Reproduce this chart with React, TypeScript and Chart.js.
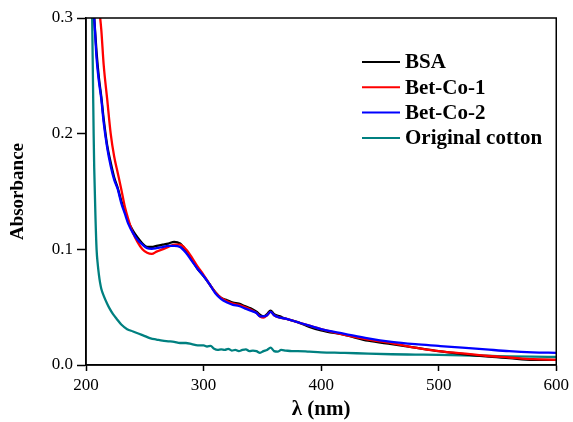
import React, { useEffect, useRef } from "react";
import { Chart, registerables } from "chart.js";

Chart.register(...registerables);

const wavelengths = [205, 207, 209, 211, 213, 215, 218, 221, 224, 227, 230, 233, 236, 240, 244, 248, 252, 256, 260, 265, 270, 275, 280, 285, 290, 295, 300, 305, 310, 315, 320, 325, 330, 335, 340, 345, 348, 351, 354, 357, 360, 365, 370, 380, 390, 400, 420, 440, 460, 480, 500, 520, 540, 560, 580, 600];

const bsa = [0.33, 0.3, 0.27, 0.248, 0.232, 0.213, 0.19, 0.175, 0.162, 0.153, 0.142, 0.133, 0.124, 0.116, 0.11, 0.105, 0.102, 0.102, 0.103, 0.104, 0.105, 0.1065, 0.105, 0.099, 0.091, 0.083, 0.077, 0.07, 0.063, 0.058, 0.056, 0.054, 0.053, 0.051, 0.049, 0.046, 0.0435, 0.042, 0.044, 0.047, 0.044, 0.042, 0.04, 0.037, 0.033, 0.03, 0.026, 0.021, 0.018, 0.015, 0.012, 0.0095, 0.0075, 0.006, 0.0045, 0.0045];

const betCo1 = [0.4, 0.36, 0.33, 0.31, 0.29, 0.26, 0.23, 0.2, 0.18, 0.166, 0.152, 0.137, 0.126, 0.114, 0.106, 0.1, 0.097, 0.096, 0.098, 0.1, 0.102, 0.104, 0.104, 0.1, 0.093, 0.085, 0.078, 0.07, 0.063, 0.058, 0.055, 0.053, 0.052, 0.05, 0.048, 0.045, 0.042, 0.041, 0.043, 0.046, 0.043, 0.041, 0.04, 0.037, 0.034, 0.031, 0.026, 0.022, 0.019, 0.015, 0.012, 0.01, 0.008, 0.0065, 0.005, 0.0045];

const betCo2 = [0.33, 0.3, 0.265, 0.245, 0.23, 0.21, 0.188, 0.172, 0.16, 0.152, 0.14, 0.131, 0.122, 0.114, 0.108, 0.104, 0.101, 0.1005, 0.101, 0.102, 0.103, 0.103, 0.102, 0.097, 0.09, 0.083, 0.077, 0.07, 0.062, 0.057, 0.054, 0.052, 0.051, 0.049, 0.047, 0.045, 0.042, 0.042, 0.043, 0.046, 0.043, 0.041, 0.04, 0.037, 0.034, 0.031, 0.027, 0.023, 0.02, 0.018, 0.0165, 0.015, 0.0135, 0.012, 0.011, 0.0105];

const cottonWl = [205, 205.5, 206, 206.5, 207, 208, 209, 210, 211, 212, 213, 215, 218, 220, 223, 226, 230, 235, 240, 245, 250, 255, 260, 265, 270, 275, 280, 285, 290, 295, 300, 303, 306, 309, 312, 315, 318, 321, 324, 327, 330, 333, 336, 339, 342, 345, 348, 351, 354, 357, 360, 363, 366, 370, 375, 380, 390, 400, 420, 440, 460, 480, 500, 520, 540, 560, 580, 600];

const cotton = [0.32, 0.28, 0.24, 0.2, 0.17, 0.13, 0.1, 0.087, 0.078, 0.071, 0.066, 0.06, 0.053, 0.049, 0.044, 0.04, 0.035, 0.031, 0.029, 0.027, 0.025, 0.023, 0.022, 0.021, 0.0205, 0.02, 0.019, 0.019, 0.018, 0.017, 0.017, 0.016, 0.0165, 0.014, 0.013, 0.0135, 0.013, 0.014, 0.0125, 0.013, 0.012, 0.013, 0.0135, 0.012, 0.0125, 0.012, 0.0105, 0.012, 0.013, 0.015, 0.012, 0.0115, 0.013, 0.0125, 0.012, 0.012, 0.0115, 0.011, 0.0105, 0.0098, 0.0093, 0.009, 0.0087, 0.0083, 0.008, 0.0075, 0.0072, 0.007];

const seriesLabels = ["BSA", "Bet-Co-1", "Bet-Co-2", "Original cotton"];
const seriesColors = ["#000000", "#ff0000", "#0000ff", "#008080"];

const xTicks = [200, 300, 400, 500, 600];
const yTicks = [0.0, 0.1, 0.2, 0.3];

const SERIF = "'Liberation Serif', 'Times New Roman', serif";

const framePlugin = {
  id: "frame",
  afterDatasetsDraw(chart: any) {
    const { ctx, chartArea } = chart;
    ctx.save();
    ctx.strokeStyle = "#000";
    ctx.lineWidth = 1.5;
    ctx.strokeRect(chartArea.left, chartArea.top, chartArea.right - chartArea.left, chartArea.bottom - chartArea.top);
    ctx.restore();
  },
};

const legendPlugin = {
  id: "customLegend",
  afterDraw(chart: any) {
    const { ctx } = chart;
    const x0 = 362;
    const x1 = 400;
    const y0 = 62;
    const dy = 25.3;
    ctx.save();
    ctx.font = `bold 21px ${SERIF}`;
    ctx.textBaseline = "middle";
    ctx.textAlign = "left";
    chart.data.datasets.forEach((ds: any, i: number) => {
      const y = y0 + i * dy;
      ctx.strokeStyle = ds.borderColor;
      ctx.lineWidth = 2;
      ctx.beginPath();
      ctx.moveTo(x0, y);
      ctx.lineTo(x1, y);
      ctx.stroke();
      ctx.fillStyle = "#000";
      ctx.fillText(ds.label, x1 + 5, y + 1);
    });
    ctx.restore();
  },
};

export default function App() {
  const ref = useRef<HTMLCanvasElement>(null);
  useEffect(() => {
    if (!ref.current) return;
    const mk = (xs: number[], ys: number[]) => xs.map((x, i) => ({ x, y: ys[i] }));
    const chart = new Chart(ref.current, {
      type: "line",
      data: {
        datasets: [
          { label: seriesLabels[0], data: mk(wavelengths, bsa), borderColor: seriesColors[0], order: 2 },
          { label: seriesLabels[1], data: mk(wavelengths, betCo1), borderColor: seriesColors[1], order: 1 },
          { label: seriesLabels[2], data: mk(wavelengths, betCo2), borderColor: seriesColors[2], order: 0 },
          { label: seriesLabels[3], data: mk(cottonWl, cotton), borderColor: seriesColors[3], order: 3 },
        ].map((d) => ({
          ...d,
          borderWidth: 2.3,
          pointRadius: 0,
          fill: false,
          cubicInterpolationMode: "monotone" as const,
        })),
      },
      options: {
        animation: false,
        responsive: false,
        layout: { padding: { top: 18, right: 16, left: 0, bottom: 0 } },
        plugins: { legend: { display: false }, tooltip: { enabled: false } },
        scales: {
          x: {
            type: "linear",
            min: 200,
            max: 600,
            afterBuildTicks: (s: any) => {
              s.ticks = xTicks.map((v) => ({ value: v }));
            },
            afterFit: (s: any) => {
              s.height = 57;
            },
            grid: { display: true, drawOnChartArea: false, drawTicks: true, tickLength: 6, tickColor: "#000", tickWidth: 1.5 },
            border: { display: true, color: "#000", width: 1.5 },
            ticks: { color: "#000", font: { family: SERIF, size: 17 }, padding: 4, maxRotation: 0, callback: (v: any) => String(v) },
            title: { display: true, text: "λ (nm)", color: "#000", font: { family: SERIF, size: 21, weight: "bold" }, padding: { top: 0, bottom: 0 } },
          },
          y: {
            type: "linear",
            min: 0,
            max: 0.3,
            afterBuildTicks: (s: any) => {
              s.ticks = yTicks.map((v) => ({ value: v }));
            },
            afterFit: (s: any) => {
              s.width = 86;
            },
            grid: { display: true, drawOnChartArea: false, drawTicks: true, tickLength: 9, tickColor: "#000", tickWidth: 1.5 },
            border: { display: true, color: "#000", width: 1.5 },
            ticks: { color: "#000", font: { family: SERIF, size: 17 }, padding: 4, callback: (v: any) => Number(v).toFixed(1) },
            title: { display: true, text: "Absorbance", color: "#000", font: { family: SERIF, size: 19, weight: "bold" }, padding: { top: 7, bottom: 0 } },
          },
        },
      },
      plugins: [framePlugin, legendPlugin],
    });
    return () => chart.destroy();
  }, []);
  return (
    <div style={{ position: "fixed", left: 0, top: 0, width: 573, height: 422, background: "#fff" }}>
      <canvas ref={ref} width={573} height={422} style={{ width: 573, height: 422 }} />
    </div>
  );
}
